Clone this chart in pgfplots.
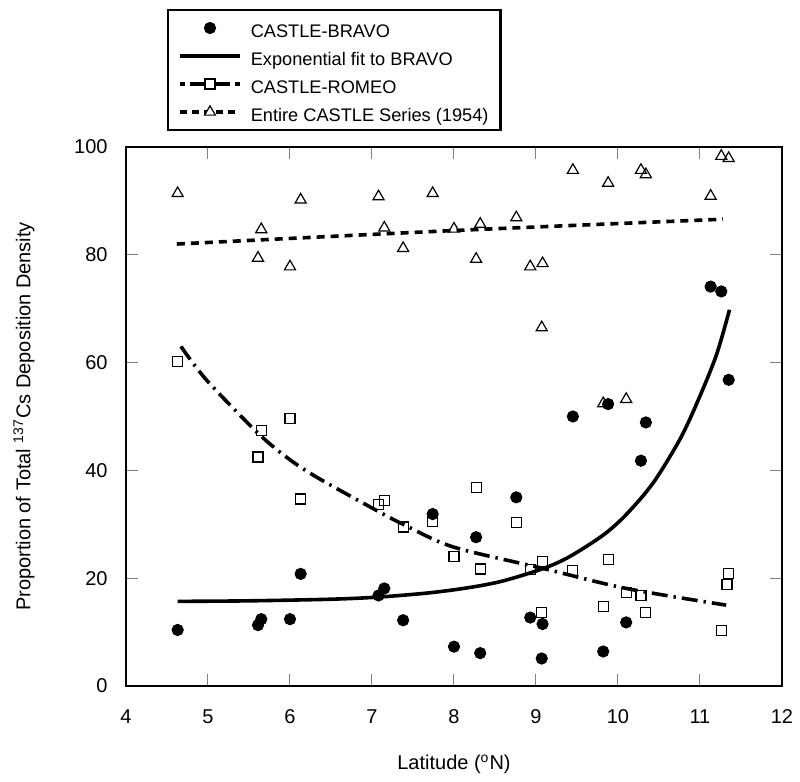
\documentclass[border=0pt]{standalone}
\usepackage{pgfplots}
\pgfplotsset{compat=1.18}
\usepackage{fontspec}
\setmainfont{Liberation Sans}

\begin{document}
\begin{tikzpicture}
\useasboundingbox (-63pt,-48pt) rectangle (337pt,343pt);
\begin{axis}[
  at={(0,0)}, anchor=south west,
  scale only axis, width=328pt, height=269.5pt,
  xmin=4, xmax=12, ymin=0, ymax=100,
  xtick={4,5,...,12}, ytick={0,20,...,100},
  tick align=inside, major tick length=6pt,
  tick style={gray, line width=0.5pt},
  axis line style={line width=1.3pt},
  /pgf/number format/assume math mode=true,
  tick label style={font=\fontsize{10}{12}\selectfont},
  xticklabel style={anchor=center, yshift=-15.5pt},
  yticklabel style={anchor=east, xshift=-5.7pt},
  label style={font=\fontsize{10}{12}\selectfont},
  xlabel={Latitude (\textsuperscript{o}N)},
  ylabel={Proportion of Total \textsuperscript{137}Cs Deposition Density},
  xlabel style={at={(axis description cs:0.5,0)}, anchor=center, yshift=-39pt},
  ylabel style={at={(axis description cs:0,0.5)}, anchor=center, yshift=51pt},
  legend image code/.code={\draw[mark repeat=2,mark phase=2] plot coordinates {(0pt,0pt) (15pt,0pt) (30pt,0pt)};},
  legend style={at={(0.0625,1.256)}, anchor=north west, draw=black, line width=1.2pt,
    font=\fontsize{9.1}{10}\selectfont, inner xsep=5pt, inner ysep=3pt,
    row sep=2.2pt, column sep=3.5pt,
    nodes={inner sep=1pt, text height=9.8pt, text depth=0pt}},
  legend cell align=left,
]

% CASTLE-BRAVO
\addplot[only marks, mark=*, mark size=2.8pt, black, mark options={line width=0.5pt}] coordinates {
 (4.63,10.4) (5.61,11.3) (5.65,12.4) (6.00,12.4) (6.13,20.8)
 (7.08,16.8) (7.15,18.1) (7.38,12.2) (7.74,31.9) (8.00,7.3)
 (8.27,27.6) (8.32,6.1) (8.76,35.0) (8.93,12.7) (9.08,11.5)
 (9.07,5.1) (9.45,50.0) (9.88,52.3) (9.82,6.4) (10.10,11.8)
 (10.28,41.8) (10.34,48.9) (11.13,74.1) (11.26,73.2) (11.35,56.8)};
\addlegendentry{CASTLE-BRAVO}

% exponential fit to BRAVO
\addplot[black, line width=1.8pt, smooth, no marks] coordinates {
 (4.63,15.7) (5.5,15.8) (6.5,16.1) (7.08,16.5) (7.71,17.3) (8.2,18.3)
 (8.6,19.5) (9.09,21.8) (9.41,24.0) (9.82,28.0) (10.10,31.8) (10.43,37.7)
 (10.76,45.9) (10.98,53.1) (11.2,61.4) (11.36,69.8)};
\addlegendentry{Exponential fit to BRAVO}

\addlegendimage{black, line width=1.8pt, dash pattern=on 2.5pt off 2.5pt on 20pt off 2.5pt on 2.5pt,
  mark=square*, mark size=2.5pt, mark options={solid, fill=white, line width=0.6pt}}
\addlegendentry{CASTLE-ROMEO}
\addlegendimage{black, line width=1.8pt, dash pattern=on 3.5pt off 2.5pt,
  mark=triangle*, mark size=3.1pt, mark options={solid, fill=white, line width=0.6pt}}
\addlegendentry{Entire CASTLE Series (1954)}

% CASTLE-ROMEO
\addplot[forget plot, only marks, mark=square, mark size=2.5pt, black, mark options={line width=0.6pt}] coordinates {
 (4.63,60.2) (5.65,47.4) (6.00,49.7) (5.61,42.5) (6.13,34.7)
 (7.08,33.6) (7.15,34.4) (7.38,29.5) (7.74,30.5) (8.00,24.0)
 (8.27,36.9) (8.32,21.7) (8.76,30.4) (8.93,21.6) (9.08,23.1)
 (9.07,13.6) (9.45,21.5) (9.88,23.4) (9.82,14.7) (10.10,17.4)
 (10.28,16.8) (10.34,13.7) (11.26,10.3) (11.33,18.9) (11.35,20.8)};
\addplot[forget plot, black, line width=1.8pt, smooth, no marks,
  dash pattern=on 8pt off 3pt on 1.2pt off 3pt] coordinates {
 (4.67,63.0) (4.98,56.8) (5.61,46.9) (5.98,42.2) (6.33,38.7) (7.04,32.7)
 (7.38,30.0) (7.99,25.8) (9.09,21.8) (10.10,18.1) (11.32,15.0)};

% Entire CASTLE series
\addplot[forget plot, only marks, mark=triangle, mark size=3.2pt, black, mark options={line width=0.6pt}] coordinates {
 (4.63,91.4) (5.65,84.7) (5.61,79.4) (6.13,90.2) (6.00,77.8)
 (7.08,90.8) (7.15,85.0) (7.38,81.2) (7.74,91.4) (8.00,84.8)
 (8.32,85.7) (8.27,79.2) (8.76,86.9) (8.93,77.8) (9.08,78.4)
 (9.07,66.5) (9.45,95.7) (9.88,93.3) (10.28,95.7) (10.34,94.9)
 (11.13,90.9) (11.26,98.3) (11.35,97.9) (9.82,52.4) (10.10,53.2)};
\addplot[forget plot, black, line width=1.8pt, smooth, no marks,
  dash pattern=on 4pt off 3pt] coordinates {
 (4.62,82.0) (8.0,84.5) (11.28,86.6)};

\end{axis}
\end{tikzpicture}
\end{document}
